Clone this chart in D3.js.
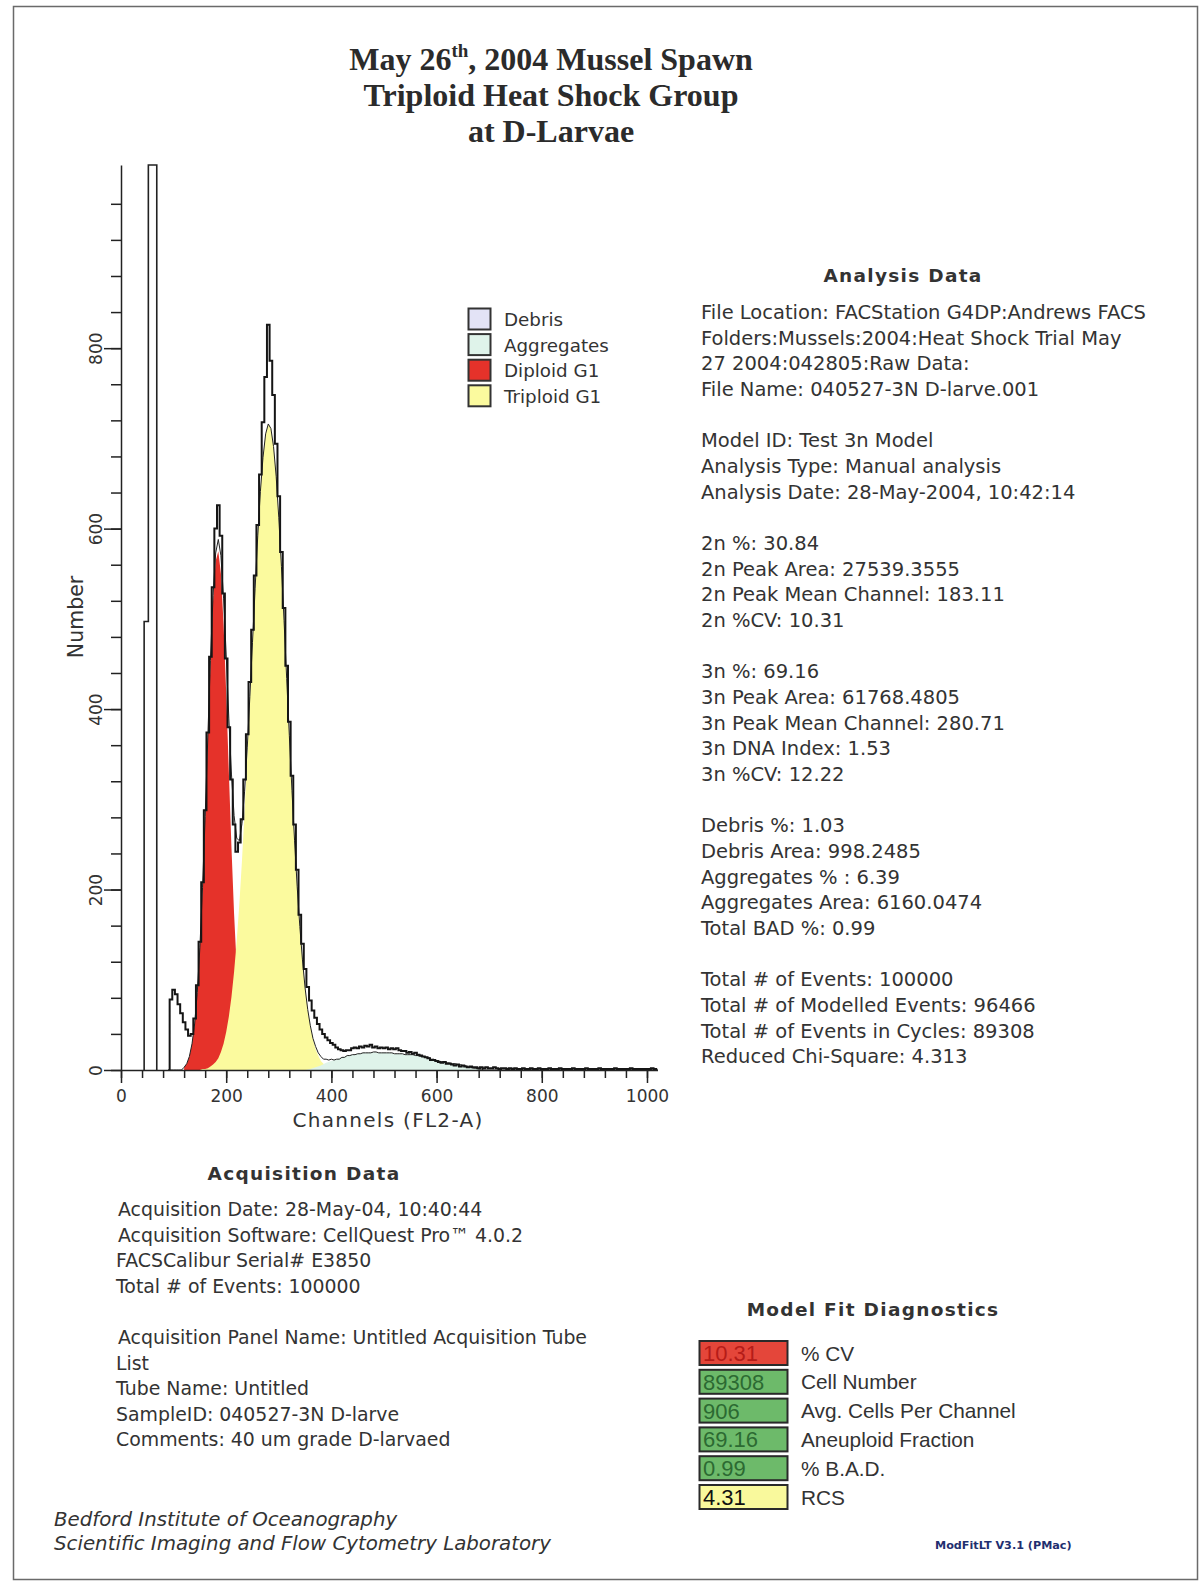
<!DOCTYPE html>
<html><head><meta charset="utf-8">
<script src="https://cdn.jsdelivr.net/npm/d3@7"></script>
<style>body{margin:0;background:#fff}svg{display:block}</style>
</head><body>
<script>
// ---------- DATA ----------
const titleLines = ["May 26", "th", ", 2004 Mussel Spawn", "Triploid Heat Shock Group", "at D-Larvae"];

const xTickValues = [0, 200, 400, 600, 800, 1000];
const yTickValues = [0, 200, 400, 600, 800];

// raw histogram (counts per channel bin, every 5 channels from 90 to 1020)
const rawStart = 90, rawStep = 5;
const rawCounts = [
  0,78,89,84,73,63,53,45,38,40,
  57,94,142,208,288,374,458,535,600,626,
  592,528,456,380,322,272,242,252,278,322,
  372,430,488,548,604,660,718,768,826,786,
  748,694,636,574,512,448,386,326,272,222,
  172,140,112,92,77,66,58,51,45,40,
  36,33,30,28,25,23,22,21,22,22,
  24,25,24,26,25,27,26,28,25,26,
  24,25,24,25,23,24,23,24,22,21,
  21,19,20,18,19,17,16,15,14,13,
  11,11,10,9,8,9,7,7,6,5,
  6,4,5,4,3,4,3,3,2,3,
  2,3,2,2,3,2,1,2,2,1,
  2,1,2,1,1,2,1,1,2,1,
  1,2,1,1,1,2,1,1,1,2,
  1,1,1,1,2,1,1,1,1,2,
  1,1,1,1,2,1,1,1,1,1,
  2,1,1,1,1,1,2,1,1,1,
  1,1,1,1,2,1,0
];
// off-scale spike at low channels (bin edges and counts)
const spikeEdges = [44, 52, 68];
const spikeCounts = [497, 1003];

// model components
const diploidStart = 120, diploidStep = 5;
const diploidCounts = [3,7,15,29,51,86,136,201,280,366,450,520,564,575,550,494,418,331,247,173,114,70,41,22,11,5,2,0];
const triploidStart = 150, triploidStep = 5;
const triploidCounts = [0,1,1,2,4,6,9,13,20,29,42,59,81,109,143,184,232,287,346,409,472,534,592,641,679,705,716,711,691,658,612,558,498,434,371,310,254,203,159,122,91,67,48,34,23,16,10,7,4,3,2,1,0];
const aggStart = 350, aggStep = 10;
const aggCounts = [0,1,3,5,8,10,12,14,16,17,18,19,19,20,19,19,19,18,18,17,17,16,15,14,12,10,9,8,7,6,5,3,2,1,0,0];

const legendLabels = ["Debris", "Aggregates", "Diploid G1", "Triploid G1"];
const legendColors = ["#e3e3f6", "#dff3ea", "#e5322a", "#fbfa9e"];

const analysisLines = [
  "File Location: FACStation G4DP:Andrews FACS",
  "Folders:Mussels:2004:Heat Shock Trial May",
  "27 2004:042805:Raw Data:",
  "File Name: 040527-3N D-larve.001",
  "",
  "Model ID: Test 3n Model",
  "Analysis Type: Manual analysis",
  "Analysis Date: 28-May-2004, 10:42:14",
  "",
  "2n %: 30.84",
  "2n Peak Area: 27539.3555",
  "2n Peak Mean Channel: 183.11",
  "2n %CV: 10.31",
  "",
  "3n %: 69.16",
  "3n Peak Area: 61768.4805",
  "3n Peak Mean Channel: 280.71",
  "3n DNA Index: 1.53",
  "3n %CV: 12.22",
  "",
  "Debris %: 1.03",
  "Debris Area: 998.2485",
  "Aggregates % : 6.39",
  "Aggregates Area: 6160.0474",
  "Total BAD %: 0.99",
  "",
  "Total # of Events: 100000",
  "Total # of Modelled Events: 96466",
  "Total # of Events in Cycles: 89308",
  "Reduced Chi-Square: 4.313"
];

const acquisitionLines = [
  "Acquisition Date: 28-May-04, 10:40:44",
  "Acquisition Software: CellQuest Pro\u2122 4.0.2",
  "FACSCalibur Serial# E3850",
  "Total # of Events: 100000",
  "",
  "Acquisition Panel Name: Untitled Acquisition Tube",
  "List",
  "Tube Name: Untitled",
  "SampleID: 040527-3N D-larve",
  "Comments: 40 um grade D-larvaed"
];

const diagValues = ["10.31", "89308", "906", "69.16", "0.99", "4.31"];
const diagLabels = ["% CV", "Cell Number", "Avg. Cells Per Channel", "Aneuploid Fraction", "% B.A.D.", "RCS"];
const diagFills = ["#e4463a", "#6dba6a", "#6dba6a", "#6dba6a", "#6dba6a", "#f9f99c"];
const diagTextColors = ["#b51c18", "#2c6a32", "#2c6a32", "#2c6a32", "#2c6a32", "#111"];

const footerLines = ["Bedford Institute of Oceanography", "Scientific Imaging and Flow Cytometry Laboratory"];

// ---------- DRAW ----------
const W = 1200, H = 1586;
const sans = "'DejaVu Sans', sans-serif";
const svg = d3.select("body").append("svg").attr("width", W).attr("height", H);
svg.append("rect").attr("width", W).attr("height", H).attr("fill", "#fff");
svg.append("rect").attr("x", 13.5).attr("y", 6.5).attr("width", 1184).attr("height", 1573)
  .attr("fill", "none").attr("stroke", "#6a6a6a").attr("stroke-width", 1.5);

// title
const tfont = "'Liberation Serif', 'Times New Roman', serif";
const t1 = svg.append("text").attr("x", 551).attr("y", 70).attr("text-anchor", "middle")
  .attr("font-family", tfont).attr("font-weight", "bold").attr("font-size", 32).attr("fill", "#2b2b2b");
t1.append("tspan").text(titleLines[0]);
t1.append("tspan").attr("font-size", 19).attr("dy", -13).text(titleLines[1]);
t1.append("tspan").attr("dy", 13).text(titleLines[2]);
[titleLines[3], titleLines[4]].forEach((s, i) => {
  svg.append("text").attr("x", 551).attr("y", 106 + i * 36).attr("text-anchor", "middle")
    .attr("font-family", tfont).attr("font-weight", "bold").attr("font-size", 32).attr("fill", "#2b2b2b").text(s);
});

// scales
const x = d3.scaleLinear().domain([0, 1020]).range([121, 657.5]);
const y = d3.scaleLinear().domain([0, 1003]).range([1070, 165]);

const defs = svg.append("defs");
defs.append("clipPath").attr("id", "plot").append("rect")
  .attr("x", 121).attr("y", 163).attr("width", 540).attr("height", 910);

const plot = svg.append("g").attr("clip-path", "url(#plot)");
const ser = (start, step, arr) => arr.map((v, i) => ({ c: start + i * step, v }));
const area = d3.area().x(d => x(d.c)).y0(y(0)).y1(d => y(d.v));

const dip = ser(diploidStart, diploidStep, diploidCounts);
const tri = ser(triploidStart, triploidStep, triploidCounts);
const agg = ser(aggStart, aggStep, aggCounts);

plot.append("path").datum(dip).attr("d", area).attr("fill", legendColors[2]);
plot.append("path").datum(tri).attr("d", area).attr("fill", legendColors[3]);
plot.append("path").datum(agg).attr("d", area).attr("fill", legendColors[1]);

// model line = sum of components on raw grid
const lookup = (start, step, arr, c) => {
  const i = Math.floor((c - start) / step);
  return (i >= 0 && i < arr.length) ? arr[i] : 0;
};
const raw = ser(rawStart, rawStep, rawCounts);
const model = raw.map(d => ({ c: d.c,
  v: lookup(diploidStart, diploidStep, diploidCounts, d.c) + lookup(triploidStart, triploidStep, triploidCounts, d.c) + lookup(aggStart, aggStep, aggCounts, d.c) }));
plot.append("path").datum(model).attr("d", d3.line().x(d => x(d.c)).y(d => y(d.v)))
  .attr("fill", "none").attr("stroke", "#222").attr("stroke-width", 1);

// raw data
plot.append("path").datum(raw).attr("d", d3.line().x(d => x(d.c)).y(d => y(d.v)).curve(d3.curveStep))
  .attr("fill", "none").attr("stroke", "#151515").attr("stroke-width", 2).attr("stroke-linejoin", "miter");

// spike
const spikePts = [{ c: spikeEdges[0], v: 0 }].concat(spikeCounts.map((v, i) => ({ c: spikeEdges[i], v })))
  .concat([{ c: spikeEdges[2], v: 0 }]);
plot.append("path").datum(spikePts).attr("d", d3.line().x(d => x(d.c)).y(d => y(d.v)).curve(d3.curveStepAfter))
  .attr("fill", "#fff").attr("stroke", "#222").attr("stroke-width", 1.6);

// axes
const axStyle = g => {
  g.selectAll("path,line").attr("stroke", "#222").attr("stroke-width", 1.5);
  g.selectAll("text").attr("font-family", sans).attr("font-size", 17).attr("fill", "#333");
};
svg.append("g").attr("transform", `translate(0,${y(0)})`)
  .call(d3.axisBottom(x).tickValues(d3.range(0, 1001, 40)).tickSize(8).tickSizeOuter(0).tickFormat(""))
  .call(axStyle);
const gxm = svg.append("g").attr("transform", `translate(0,${y(0)})`)
  .call(d3.axisBottom(x).tickValues(xTickValues).tickSize(13).tickPadding(7).tickFormat(d3.format("d")))
  .call(axStyle);
gxm.select(".domain").remove();

svg.append("g").attr("transform", `translate(${x(0)},0)`)
  .call(d3.axisLeft(y).tickValues(d3.range(0, 961, 40)).tickSize(10).tickSizeOuter(0).tickFormat(""))
  .call(axStyle);
const gym = svg.append("g").attr("transform", `translate(${x(0)},0)`)
  .call(d3.axisLeft(y).tickValues(yTickValues).tickSize(17).tickFormat(d3.format("d")))
  .call(axStyle);
gym.select(".domain").remove();
gym.selectAll("text").attr("transform", "rotate(-90)").attr("x", 0).attr("y", -19).attr("dy", 0)
  .attr("text-anchor", "middle");

svg.append("text").attr("x", 388).attr("y", 1127).attr("text-anchor", "middle")
  .attr("font-family", sans).attr("font-size", 20).attr("letter-spacing", 1.3).attr("fill", "#333").text("Channels (FL2-A)");
svg.append("text").attr("transform", "translate(83,617) rotate(-90)").attr("text-anchor", "middle")
  .attr("font-family", sans).attr("font-size", 20.5).attr("fill", "#333").text("Number");

// legend
const lg = svg.append("g");
legendLabels.forEach((s, i) => {
  lg.append("rect").attr("x", 468.5).attr("y", 308.5 + i * 25.6).attr("width", 22).attr("height", 21)
    .attr("fill", legendColors[i]).attr("stroke", "#333").attr("stroke-width", 2);
  lg.append("text").attr("x", 504).attr("y", 326 + i * 25.6).attr("font-family", sans).attr("font-size", 18.3)
    .attr("fill", "#333").text(s);
});

// analysis data
const boldTitle = (s, cx, yy) => svg.append("text").attr("x", cx).attr("y", yy).attr("text-anchor", "middle")
  .attr("font-family", sans).attr("font-weight", "bold").attr("font-size", 18.5).attr("letter-spacing", 1.3)
  .attr("fill", "#333").text(s);
boldTitle("Analysis Data", 903, 282);
analysisLines.forEach((s, i) => {
  if (!s) return;
  svg.append("text").attr("x", 701).attr("y", 319 + i * 25.67).attr("font-family", sans)
    .attr("font-size", 19.5).attr("fill", "#333").text(s);
});

// acquisition data
boldTitle("Acquisition Data", 304, 1180);
acquisitionLines.forEach((s, i) => {
  if (!s) return;
  svg.append("text").attr("x", s.startsWith("Acquisition") ? 118 : 116).attr("y", 1216 + i * 25.6)
    .attr("font-family", sans).attr("font-size", 18.9).attr("fill", "#333").text(s);
});

// model fit diagnostics
boldTitle("Model Fit Diagnostics", 873, 1316);
diagValues.forEach((v, i) => {
  const top = 1341 + i * 28.8;
  svg.append("rect").attr("x", 699.5).attr("y", top).attr("width", 88).attr("height", 24)
    .attr("fill", diagFills[i]).attr("stroke", "#2a2a2a").attr("stroke-width", 2);
  svg.append("text").attr("x", 703).attr("y", top + 20).attr("font-family", "'Liberation Sans', Arial, sans-serif")
    .attr("font-size", 22).attr("fill", diagTextColors[i]).text(v);
  svg.append("text").attr("x", 801).attr("y", top + 19.5).attr("font-family", "'Liberation Sans', Arial, sans-serif")
    .attr("font-size", 20.8).attr("fill", "#333").text(diagLabels[i]);
});

// footer
footerLines.forEach((s, i) => {
  svg.append("text").attr("x", 54).attr("y", 1526 + i * 24).attr("font-family", sans)
    .attr("font-style", "italic").attr("font-size", 19.8).attr("fill", "#333").text(s);
});
svg.append("text").attr("x", 935).attr("y", 1549).attr("font-family", sans).attr("font-weight", "bold")
  .attr("font-size", 11.2).attr("fill", "#1f2f70").text("ModFitLT V3.1 (PMac)");
</script>
</body></html>
